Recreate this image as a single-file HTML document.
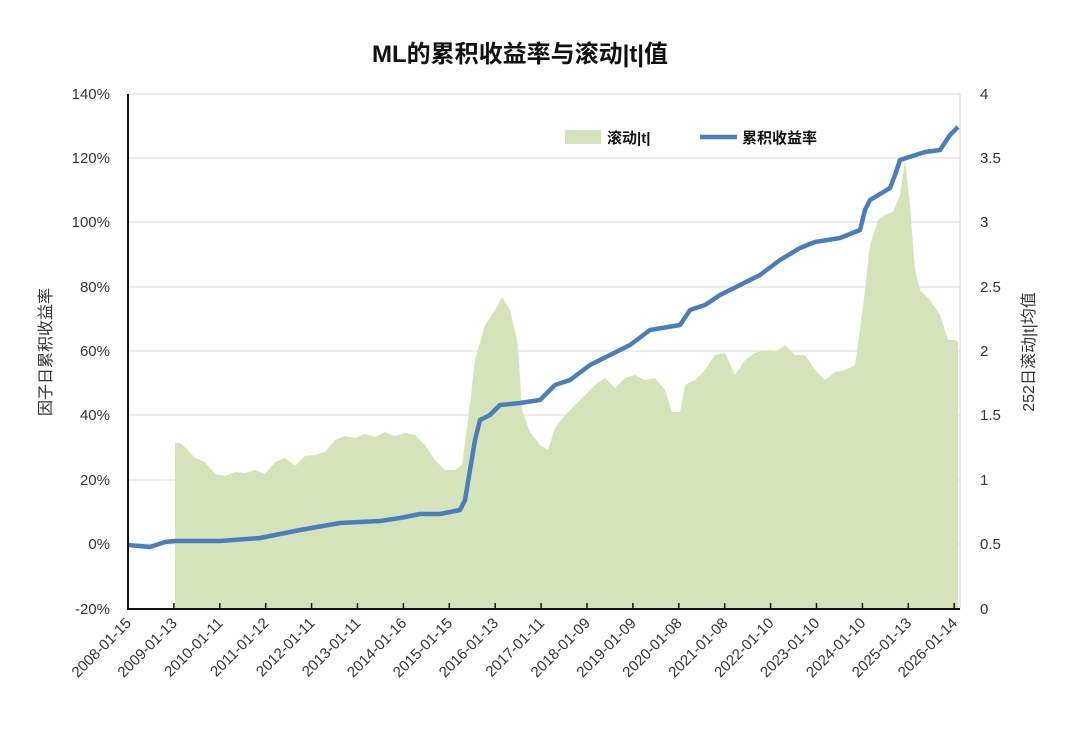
<!DOCTYPE html>
<html><head><meta charset="utf-8"><style>
body{margin:0;background:#fff;}
svg text{font-family:"Liberation Sans","Noto Sans CJK SC",sans-serif;fill:#333;}
</style></head><body>
<svg width="1080" height="746" xmlns="http://www.w3.org/2000/svg">
<text x="520" y="62" text-anchor="middle" font-size="24" font-weight="bold" style="fill:#111">ML的累积收益率与滚动|t|值</text>
<g stroke="#d9d9d9" stroke-width="1">
<line x1="128" y1="94" x2="960" y2="94"/><line x1="128" y1="158" x2="960" y2="158"/><line x1="128" y1="222" x2="960" y2="222"/><line x1="128" y1="287" x2="960" y2="287"/><line x1="128" y1="351" x2="960" y2="351"/><line x1="128" y1="415" x2="960" y2="415"/><line x1="128" y1="480" x2="960" y2="480"/><line x1="128" y1="544" x2="960" y2="544"/>
<line x1="960" y1="94" x2="960" y2="609"/>
</g>
<polygon fill="#d5e3bb" points="175,609 175,443 180,443 185,447 195,458 205,462 215,474 225,476 235,472 245,473 255,470 265,474 275,462 285,458 295,466 305,456 315,455 325,452 335,440 345,436 355,438 365,434 375,437 385,432 395,436 405,433 415,435 425,445 435,460 445,470 455,470 462,465 468,420 475,360 485,325 495,310 502,297 510,310 518,345 522,410 530,432 540,445 548,450 555,428 565,415 575,405 585,395 595,385 605,378 615,388 625,378 635,375 645,380 655,378 665,390 672,412 680,412 685,385 695,380 705,370 715,355 725,353 735,375 745,360 755,353 765,350 775,352 785,345 795,355 805,355 815,370 825,380 835,372 845,370 855,365 860,330 865,290 870,245 878,220 885,215 893,212 900,195 905,160 910,205 915,270 920,290 930,300 940,315 948,340 955,340 958,342 958,609"/>
<polyline fill="none" stroke="#4a7ebb" stroke-width="4.5" stroke-linejoin="round" points="128,545 150,547 165,542 175,541 220,541 260,538 300,530 340,523 380,521 400,518 420,514 440,514 460,510 465,500 470,470 475,440 480,420 490,415 500,405 520,403 540,400 555,385 570,380 590,365 610,355 630,345 650,330 680,325 690,310 705,305 720,295 740,285 760,275 780,260 800,248 815,242 840,238 860,230 865,210 870,200 890,188 895,175 900,160 925,152 940,150 950,135 958,127"/>
<g stroke="#111" stroke-width="2">
<line x1="128" y1="94" x2="128" y2="610"/><line x1="127" y1="609" x2="960" y2="609"/>
</g>
<g stroke="#111" stroke-width="1.5">
<line x1="173.9" y1="609" x2="173.9" y2="603"/><line x1="219.8" y1="609" x2="219.8" y2="603"/><line x1="265.7" y1="609" x2="265.7" y2="603"/><line x1="311.6" y1="609" x2="311.6" y2="603"/><line x1="357.5" y1="609" x2="357.5" y2="603"/><line x1="403.4" y1="609" x2="403.4" y2="603"/><line x1="449.3" y1="609" x2="449.3" y2="603"/><line x1="495.2" y1="609" x2="495.2" y2="603"/><line x1="541.1" y1="609" x2="541.1" y2="603"/><line x1="587" y1="609" x2="587" y2="603"/><line x1="632.9" y1="609" x2="632.9" y2="603"/><line x1="678.8" y1="609" x2="678.8" y2="603"/><line x1="724.7" y1="609" x2="724.7" y2="603"/><line x1="770.6" y1="609" x2="770.6" y2="603"/><line x1="816.5" y1="609" x2="816.5" y2="603"/><line x1="862.4" y1="609" x2="862.4" y2="603"/><line x1="908.3" y1="609" x2="908.3" y2="603"/><line x1="954.2" y1="609" x2="954.2" y2="603"/>
</g>
<g font-size="15" text-anchor="end">
<text x="110" y="99">140%</text><text x="110" y="163">120%</text><text x="110" y="227">100%</text><text x="110" y="292">80%</text><text x="110" y="356">60%</text><text x="110" y="420">40%</text><text x="110" y="485">20%</text><text x="110" y="549">0%</text><text x="110" y="614">-20%</text>
</g>
<g font-size="15" text-anchor="start">
<text x="980" y="99">4</text><text x="980" y="163">3.5</text><text x="980" y="227">3</text><text x="980" y="292">2.5</text><text x="980" y="356">2</text><text x="980" y="420">1.5</text><text x="980" y="485">1</text><text x="980" y="549">0.5</text><text x="980" y="614">0</text>
</g>
<g font-size="15" text-anchor="end">
<text transform="translate(132,624) rotate(-45)">2008-01-15</text>
<text transform="translate(177.9,624) rotate(-45)">2009-01-13</text>
<text transform="translate(223.8,624) rotate(-45)">2010-01-11</text>
<text transform="translate(269.7,624) rotate(-45)">2011-01-12</text>
<text transform="translate(315.6,624) rotate(-45)">2012-01-11</text>
<text transform="translate(361.5,624) rotate(-45)">2013-01-11</text>
<text transform="translate(407.4,624) rotate(-45)">2014-01-16</text>
<text transform="translate(453.3,624) rotate(-45)">2015-01-15</text>
<text transform="translate(499.2,624) rotate(-45)">2016-01-13</text>
<text transform="translate(545.1,624) rotate(-45)">2017-01-11</text>
<text transform="translate(591,624) rotate(-45)">2018-01-09</text>
<text transform="translate(636.9,624) rotate(-45)">2019-01-09</text>
<text transform="translate(682.8,624) rotate(-45)">2020-01-08</text>
<text transform="translate(728.7,624) rotate(-45)">2021-01-08</text>
<text transform="translate(774.6,624) rotate(-45)">2022-01-10</text>
<text transform="translate(820.5,624) rotate(-45)">2023-01-10</text>
<text transform="translate(866.4,624) rotate(-45)">2024-01-10</text>
<text transform="translate(912.3,624) rotate(-45)">2025-01-13</text>
<text transform="translate(958.2,624) rotate(-45)">2026-01-14</text>
</g>
<text transform="translate(51,352) rotate(-90)" text-anchor="middle" font-size="16">因子日累积收益率</text>
<text transform="translate(1034,352) rotate(-90)" text-anchor="middle" font-size="16">252日滚动|t|均值</text>
<rect x="565" y="130" width="36" height="14" fill="#d5e3bb"/>
<text x="607" y="143" font-size="15" font-weight="bold" style="fill:#111">滚动|t|</text>
<line x1="700" y1="137" x2="737" y2="137" stroke="#4a7ebb" stroke-width="4.5"/>
<text x="742" y="143" font-size="15" font-weight="bold" style="fill:#111">累积收益率</text>
</svg>
</body></html>
